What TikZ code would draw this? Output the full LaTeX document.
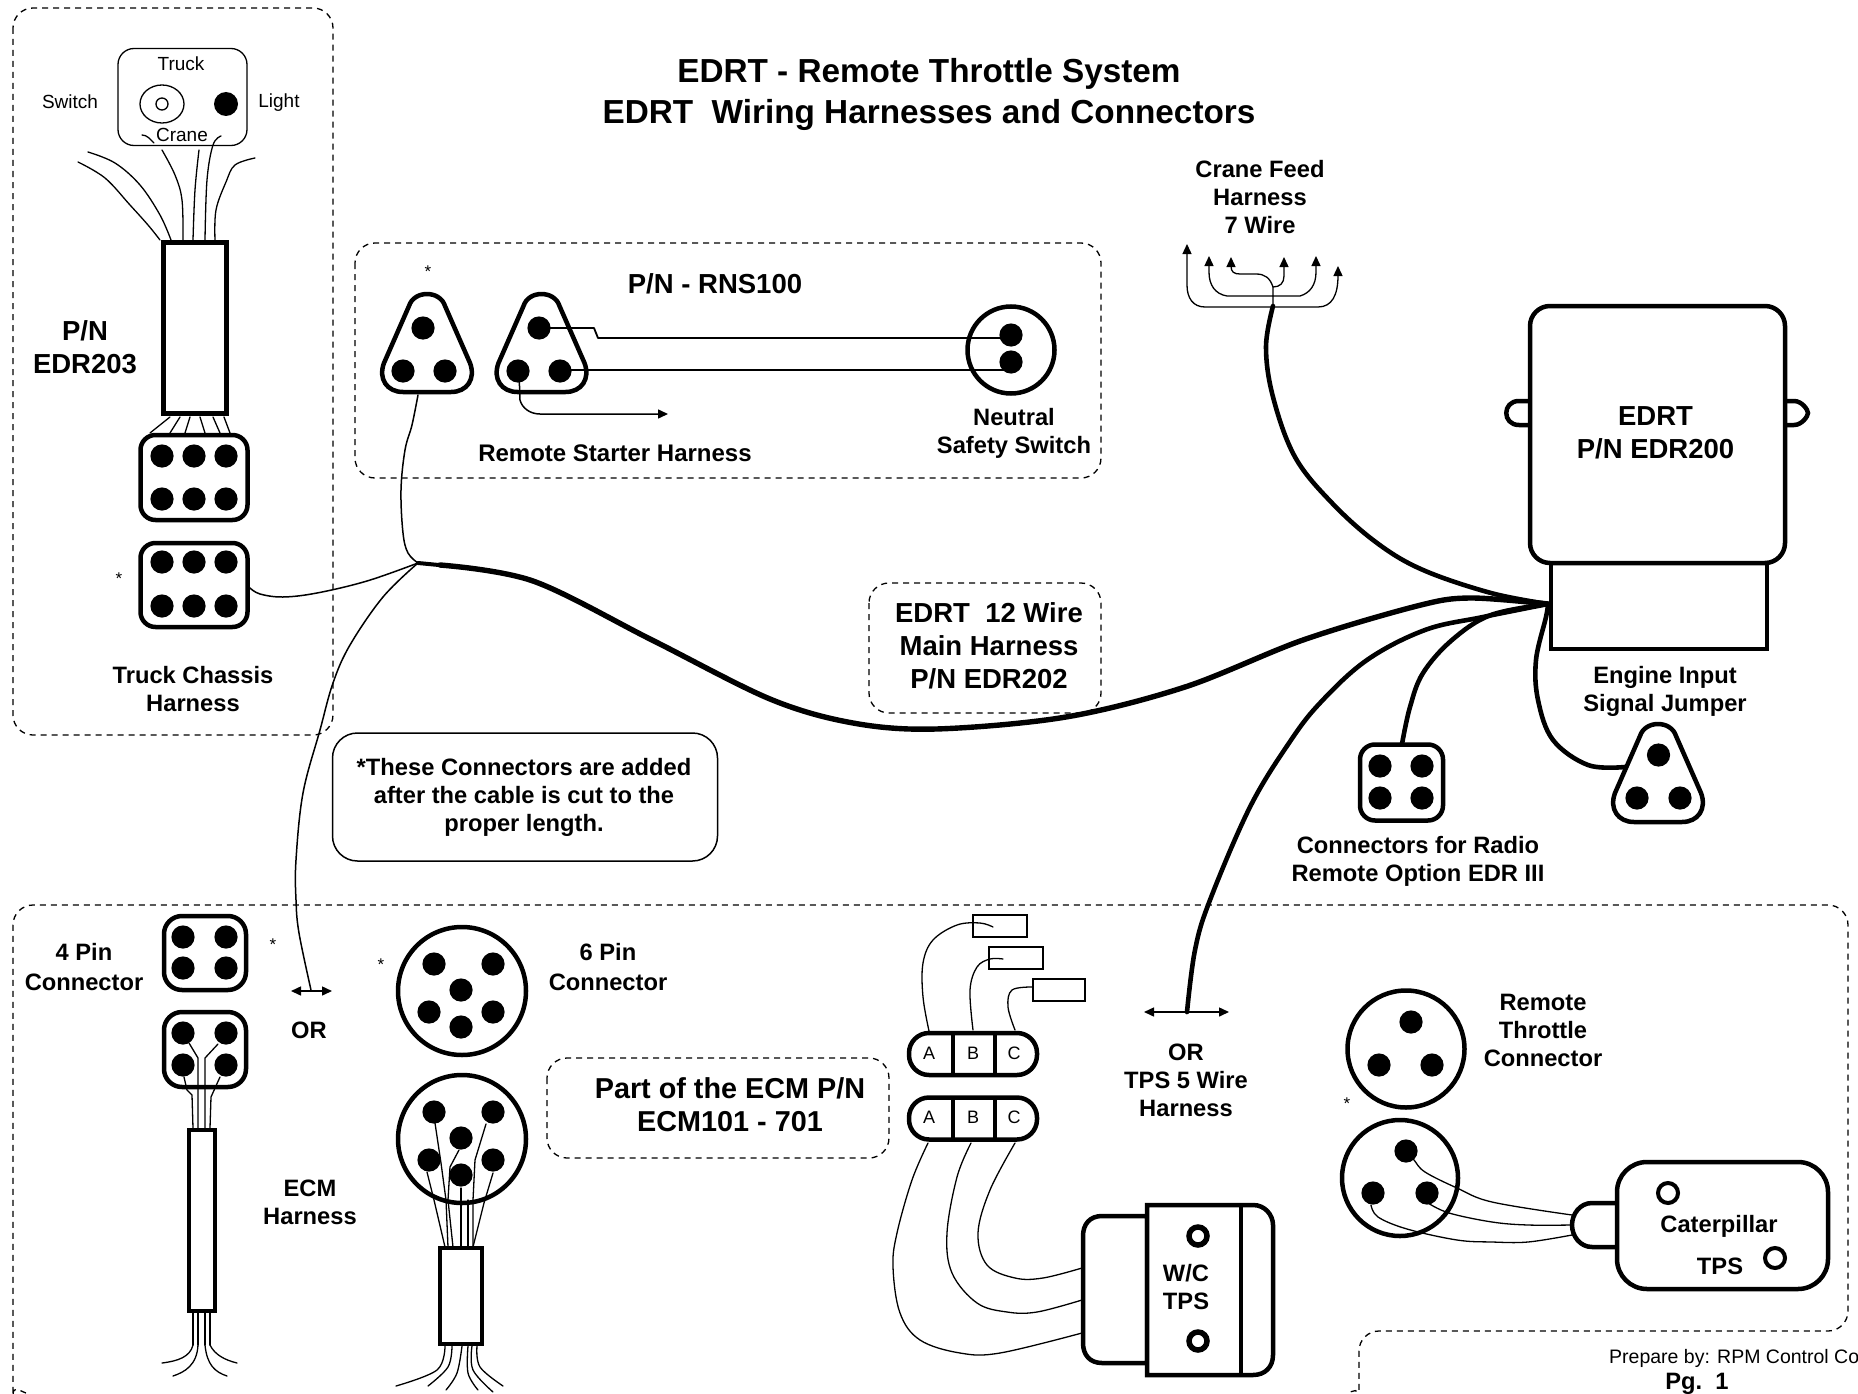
\documentclass[tikz,border=0pt]{standalone}
\usepackage{fontspec}
\setmainfont{Liberation Sans}
\usetikzlibrary{arrows.meta}
\tikzset{
  wire/.style={line width=1.3pt,line join=round,line cap=round},
  cable/.style={line width=4.6pt,line join=round,line cap=round},
  dsh/.style={line width=1.3pt,dash pattern=on 6pt off 5pt},
  outline/.style={draw,line width=4.5pt,fill=white,inner sep=0pt,outer sep=0pt},
  lab/.style={inner sep=0pt,align=center,font=\fontsize{23.7}{28}\selectfont\bfseries},
  lablarge/.style={inner sep=0pt,align=center,font=\fontsize{27.5}{33}\selectfont\bfseries},
  reg/.style={inner sep=0pt,align=center,font=\fontsize{19}{23}\selectfont},
  note/.style={inner sep=0pt,font=\fontsize{17}{20}\selectfont},
  tip/.style={-{Triangle[length=10pt,width=9pt]}},
  dbltip/.style={{Triangle[length=10pt,width=9pt]}-{Triangle[length=10pt,width=9pt]}},
}
\newcommand{\pin}[2]{\fill (#1,#2) circle[radius=11.6];}
\newcommand{\hole}[2]{\draw[line width=4pt,fill=white] (#1,#2) circle[radius=10];}
\newcommand{\tricon}[2]{\begin{scope}[shift={(#1,#2)}]\draw[line width=4.5pt,fill=white,line join=round] (-18,13) .. controls (-13,-3) and (13,-3) .. (18,13) -- (43,70) .. controls (49,86) and (40,99) .. (24,99) -- (-24,99) .. controls (-40,99) and (-49,86) .. (-43,70) -- cycle;\end{scope}}
\begin{document}
\begin{tikzpicture}[x=1pt,y=-1pt]
\useasboundingbox (0,0) rectangle (1858,1394);
\fill[white] (0,0) rectangle (1858,1394);

% dashed frames
\draw[dsh,rounded corners=20] (13,8) rectangle (333,735);
\draw[dsh,rounded corners=20] (355,243) rectangle (1101,478);
\draw[dsh,rounded corners=20] (869,583) rectangle (1101,713);
\draw[dsh,rounded corners=20] (547,1058) rectangle (889,1158);
\draw[dsh,rounded corners=20] (26,1393) .. controls (18,1390) and (13,1385) .. (13,1376) -- (13,905) -- (1848,905) -- (1848,1331) -- (1359,1331) -- (1359,1378) .. controls (1359,1386) and (1353,1392) .. (1346,1393);

% title
\node[inner sep=0pt,align=center,font=\fontsize{33.3}{41}\selectfont\bfseries] (title) at (929,94.5) {EDRT - Remote Throttle System\\EDRT~~Wiring Harnesses and Connectors};

% hubs
\coordinate (jL) at (418,563);
\coordinate (jR) at (1548,604);

% --- Truck chassis harness
\node[draw,line width=1.3pt,rounded corners=16,minimum width=129,minimum height=97,inner sep=0pt] (panel) at (182.5,97) {};
\node[reg] (tTruck) at (181,64) {Truck};
\node[reg] (tCrane) at (182,135) {Crane};
\node[reg] (tSwitch) at (70,102) {Switch};
\node[reg] (tLight) at (279,103) {Light};
\draw[line width=1.3pt] (162,104) ellipse[x radius=22,y radius=19];
\draw[line width=1.3pt] (162,104) circle[radius=6];
\fill (226,104) circle[radius=12];
\node[outline,minimum width=63,minimum height=171] (b203) at (195,328) {};
\draw[wire] plot[smooth,tension=.6] coordinates {(78,162) (105,178) (130,205) (148,225) (160,240)};
\draw[wire] plot[smooth,tension=.6] coordinates {(88,152) (115,163) (140,185) (160,215) (171,240)};
\draw[wire] plot[smooth,tension=.6] coordinates {(162,150) (175,175) (182,200) (183,240)};
\draw[wire] plot[smooth,tension=.6] coordinates {(199,150) (195,190) (193,240)};
\draw[wire] plot[smooth,tension=.6] coordinates {(221,136) (213,145) (207,180) (205,240)};
\draw[wire] plot[smooth,tension=.6] coordinates {(255,158) (235,165) (226,182) (216,210) (215,240)};
\draw[wire] (142,135) .. controls (147,135) and (150,139) .. (154,143);
\foreach \a/\b in {170/150,180/170,190/185,200/205,213/220,224/230}
  \draw[wire] (\a,417) -- (\b,433);
\node[outline,rounded corners=15,minimum width=107,minimum height=85] (c6a) at (194,477.5) {};
\node[outline,rounded corners=15,minimum width=107,minimum height=84] (c6b) at (194,585) {};
\foreach \px in {162,194,226}{\pin{\px}{456}\pin{\px}{499}\pin{\px}{562}\pin{\px}{606}}
\node[note] (s1) at (119,579) {*};
\node[lab] (tTC) at (193,689) {Truck Chassis\\Harness};
\node[lablarge] (tPN) at (85,347) {P/N\\EDR203};

% --- RNS100
\tricon{427}{293}
\tricon{541.5}{293}
\pin{423}{328}\pin{403}{371}\pin{445}{371}
\pin{539}{328}\pin{518}{371}\pin{560}{371}
\node[note] (s2) at (428,272) {*};
\node[lablarge] (tRNS) at (715,284) {P/N - RNS100};
\node[lab,font=\fontsize{24}{28}\selectfont\bfseries] (tRS) at (615,453) {Remote Starter Harness};
\node[outline,circle,minimum size=87] (nss) at (1011,350) {};
\draw[line width=1.8pt,line join=round] (539,328) -- (594,328) -- (598,338) -- (1011,338);
\draw[line width=1.8pt] (560,370) -- (1011,370);
\pin{1011}{335}\pin{1011}{362}
\draw[line width=1.5pt,tip] (519,372) -- (520,400) .. controls (522,408) and (530,414) .. (540,414) -- (668,414);
\node[lab] (tNS) at (1014,433) {Neutral\\Safety Switch};

% --- thin wires to left hub
\draw[wire,line width=1.5pt] plot[smooth,tension=.6] coordinates {(418,395) (412,425) (405,450) (401,490) (403,533) (408,553) (jL)};
\draw[wire,line width=1.5pt] plot[smooth,tension=.6] coordinates {(250,588) (260,594) (283,597) (317,593) (367,581) (jL)};
\draw[wire,line width=1.5pt] plot[smooth,tension=.6] coordinates {(jL) (383,597) (350,645) (333,683) (320,730) (303,793) (296,860) (296,900) (299,933) (311,990)};
\draw[line width=1.5pt,dbltip] (291,991) -- (332,991);
\node[lab] (tOR1) at (309,1030) {OR};

% --- note
\node[draw,line width=1.5pt,rounded corners=25,minimum width=385,minimum height=128,inner sep=0pt] (notebox) at (525,797) {};
\node[lab] (tNote) at (524,797) {*These Connectors are added\\after the cable is cut to the\\proper length.};

% --- main cable
\draw[line width=4pt,line cap=round] (jL) -- (470,568);
\draw[line width=5.4pt,line cap=round,line join=round] plot[smooth,tension=.55] coordinates {(440,565) (533,581) (652,640) (770,699) (853,723) (936,729) (1066,717) (1185,687) (1303,640) (1417,606) (1470,598) (jR)};
\node[lablarge] (tMain) at (989,646) {EDRT~~12 Wire\\Main Harness\\P/N EDR202};

% --- crane feed
\draw[cable] plot[smooth,tension=.6] coordinates {(1273,306) (1266,347) (1273,397) (1295,457) (1332,503) (1377,543) (1423,570) (1491,593) (jR)};
\draw[wire,tip] (1273,307) -- (1205,307) .. controls (1193,307) and (1187,298) .. (1187,285) -- (1187,244);
\draw[wire,tip] (1273,307) -- (1318,307) .. controls (1332,307) and (1338,295) .. (1338,266);
\draw[wire,tip] (1273,296) -- (1227,296) .. controls (1215,294) and (1209,285) .. (1209,272) -- (1209,256);
\draw[wire,tip] (1273,296) -- (1300,296) .. controls (1310,293) and (1316,285) .. (1316,272) -- (1316,256);
\draw[wire,tip] (1273,307) -- (1273,287) .. controls (1270,278) and (1265,274) .. (1256,274) -- (1240,274) .. controls (1234,274) and (1231,272) .. (1231,266) -- (1231,257);
\draw[wire,tip] (1273,287) .. controls (1280,287) and (1284,283) .. (1284,276) -- (1284,257);
\node[lab] (tCF) at (1260,197) {Crane Feed\\Harness\\7 Wire};

% --- EDRT box
\draw[line width=4.5pt,fill=white] (1532,401) -- (1519,401) .. controls (1502,401) and (1502,425) .. (1519,425) -- (1532,425);
\draw[line width=4.5pt,fill=white] (1780,401) -- (1794,401) .. controls (1802,401) and (1808,410) .. (1808,413) .. controls (1808,416) and (1802,425) .. (1794,425) -- (1780,425);
\node[outline,line width=4pt,minimum width=216,minimum height=86] (tail) at (1658.5,606) {};
\node[outline,rounded corners=20,minimum width=255,minimum height=257] (edrt) at (1657.5,434.5) {};
\node[lablarge] (tEDRT) at (1655.5,433) {EDRT\\P/N EDR200};

% --- other cables from right hub
\draw[cable] plot[smooth,tension=.6] coordinates {(jR) (1483,617) (1425,630) (1367,660) (1320,703) (1289,743) (1250,807) (1210,900) (1195,950) (1187,1012)};
\draw[cable] plot[smooth,tension=.6] coordinates {(jR) (1491,615) (1452,640) (1423,673) (1410,707) (1402,744)};
\draw[cable] plot[smooth,tension=.6] coordinates {(jR) (1546,617) (1536,660) (1538,700) (1553,740) (1588,765) (1625,767)};
\node[outline,rounded corners=15,minimum width=83,minimum height=76] (radio) at (1401.5,782.5) {};
\pin{1380}{766}\pin{1422}{766}\pin{1380}{798}\pin{1422}{798}
\node[lab] (tRadio) at (1418,861) {Connectors for Radio\\Remote Option EDR III};
\tricon{1658}{723}
\pin{1658.5}{755}\pin{1637}{798}\pin{1680}{798}
\node[lab] (tEng) at (1665,691) {Engine Input\\Signal Jumper};

% --- 4 pin connectors and ECM harness
\node[outline,rounded corners=18,minimum width=82,minimum height=74] (c4a) at (205,953) {};
\pin{183}{937}\pin{226}{937}\pin{183}{968}\pin{226}{968}
\node[outline,rounded corners=18,minimum width=82,minimum height=75] (c4b) at (205,1049.5) {};
\pin{183}{1033}\pin{226}{1033}\pin{183}{1065}\pin{226}{1065}
\node[outline,minimum width=26,minimum height=181] (ecm) at (202,1220.5) {};
\draw[wire] (189,1043) -- (198,1058) -- (198,1128);
\draw[wire] (218,1044) -- (205,1058) -- (205,1128);
\draw[wire] (184,1077) -- (187,1090) -- (192,1095) -- (193,1128);
\draw[wire] (220,1077) -- (211,1097) -- (210,1128);
\foreach \a in {193,198,205,210} \draw[wire] (\a,1312) -- (\a,1345);
\draw[wire] (193,1345) .. controls (190,1357) and (178,1361) .. (162,1363);
\draw[wire] (198,1345) .. controls (197,1365) and (185,1372) .. (173,1376);
\draw[wire] (205,1345) .. controls (207,1365) and (215,1372) .. (227,1376);
\draw[wire] (210,1345) .. controls (215,1355) and (225,1360) .. (237,1363);
\node[note] (s3) at (273,945) {*};
\node[lab,font=\fontsize{23.7}{30}\selectfont\bfseries] (t4p) at (84,967) {4 Pin\\Connector};
\node[lab] (tECM) at (310,1202) {ECM\\Harness};

% --- 6 pin connectors
\node[outline,circle,minimum size=128] (c6c) at (462,991) {};
\node[outline,circle,minimum size=128] (c6d) at (462,1139) {};
\foreach \oy in {0,148}{
  \pin{434}{964+\oy}\pin{493}{964+\oy}\pin{461}{990+\oy}\pin{429}{1012+\oy}\pin{493}{1012+\oy}\pin{461}{1027+\oy}}
\node[note] (s4) at (381,965) {*};
\node[lab,font=\fontsize{23.7}{30}\selectfont\bfseries] (t6p) at (608,967) {6 Pin\\Connector};
\node[outline,minimum width=42,minimum height=96] (b6) at (461,1296) {};
\draw[wire] (435,1123) -- (441,1163) -- (446,1200) -- (448,1247);
\draw[wire] (486,1124) -- (475,1160) -- (473,1200) -- (473,1247);
\draw[wire] (459,1150) -- (450,1167) -- (448,1200) -- (453,1247);
\draw[wire] (427,1172) -- (434,1200) -- (445,1247);
\draw[wire] (493,1173) -- (484,1203) -- (473,1247);
\draw[wire] (461,1188) -- (461,1247);
\draw[wire] (468,1200) -- (468,1247);
\draw[wire] plot[smooth,tension=.6] coordinates {(445,1346) (437,1370) (396,1386)};
\draw[wire] plot[smooth,tension=.6] coordinates {(452,1346) (448,1367) (428,1386)};
\draw[wire] plot[smooth,tension=.6] coordinates {(462,1346) (457,1373) (446,1390)};
\draw[wire] plot[smooth,tension=.6] coordinates {(468,1346) (468,1373) (478,1390)};
\draw[wire] plot[smooth,tension=.6] coordinates {(472,1346) (473,1370) (493,1392)};
\draw[wire] plot[smooth,tension=.6] coordinates {(477,1346) (480,1367) (503,1386)};

\node[lab,font=\fontsize{28.8}{33}\selectfont\bfseries] (tPart) at (730,1105) {Part of the ECM P/N\\ECM101 - 701};

% --- W/C TPS
\node[draw,line width=1.3pt,minimum width=54,minimum height=22,inner sep=0pt] (r1) at (1000,926) {};
\node[draw,line width=1.3pt,minimum width=54,minimum height=22,inner sep=0pt] (r2) at (1016,958) {};
\node[draw,line width=1.3pt,minimum width=52,minimum height=22,inner sep=0pt] (r3) at (1059,990) {};
\draw[wire] plot[smooth,tension=.6] coordinates {(929,1031) (923,997) (923,963) (933,940) (957,925) (980,923) (993,927)};
\draw[wire] plot[smooth,tension=.6] coordinates {(973,1030) (970,990) (977,967) (990,959) (1003,959)};
\draw[wire] plot[smooth,tension=.6] coordinates {(1015,1030) (1008,1007) (1012,990) (1033,987)};
\draw[wire] plot[smooth,tension=.6] coordinates {(928,1143) (912,1180) (897,1233) (893,1267) (900,1313) (920,1340) (960,1353) (1000,1353) (1082,1333)};
\draw[wire] plot[smooth,tension=.6] coordinates {(971,1143) (957,1177) (947,1233) (952,1273) (977,1303) (1007,1312) (1037,1312) (1082,1300)};
\draw[wire] plot[smooth,tension=.6] coordinates {(1015,1143) (990,1190) (978,1233) (987,1265) (1015,1278) (1043,1278) (1082,1268)};
\foreach \n/\cy in {abc1/1054,abc2/1118.5}{
  \node[outline,rounded corners=20,minimum width=128,minimum height=42] (\n) at (973,\cy) {};
  \draw[line width=4.5pt] (953,\cy-21) -- (953,\cy+21);
  \draw[line width=4.5pt] (995,\cy-21) -- (995,\cy+21);
  \node[reg,font=\fontsize{18}{20}\selectfont] at (929,\cy-1) {A};
  \node[reg,font=\fontsize{18}{20}\selectfont] at (973,\cy-1) {B};
  \node[reg,font=\fontsize{18}{20}\selectfont] at (1014,\cy-1) {C};
}
\draw[line width=1.5pt,dbltip] (1144,1012) -- (1229,1012);
\node[lab] (tTPS5) at (1186,1080) {OR\\TPS 5 Wire\\Harness};
\draw[line width=4.5pt,fill=white] (1147,1216) -- (1102,1216) .. controls (1090,1216) and (1083,1224) .. (1083,1236) -- (1083,1343) .. controls (1083,1355) and (1090,1363) .. (1102,1363) -- (1147,1363) -- cycle;
\draw[line width=4.5pt,fill=white] (1147,1205) -- (1253,1205) .. controls (1265,1205) and (1273,1215) .. (1273,1225) -- (1273,1355) .. controls (1273,1367) and (1265,1375) .. (1253,1375) -- (1147,1375) -- cycle;
\draw[line width=4.5pt] (1241,1205) -- (1241,1375);
\draw[line width=5.5pt,fill=white] (1198,1236) circle[radius=9];
\draw[line width=5.5pt,fill=white] (1198,1341) circle[radius=9];
\node[lab] (tWC) at (1186,1287) {W/C\\TPS};

% --- remote throttle and caterpillar
\node[outline,circle,minimum size=117] (rt1) at (1406,1049) {};
\pin{1411}{1022}\pin{1379}{1065}\pin{1432}{1065}
\node[outline,circle,minimum size=116] (rt2) at (1400,1178) {};
\pin{1406}{1151}\pin{1373}{1193}\pin{1427}{1193}
\node[note] (s5) at (1347,1104) {*};
\node[lab] (tRT) at (1543,1030) {Remote\\Throttle\\Connector};
\draw[line width=4.5pt,fill=white] (1617,1203) -- (1592,1203) .. controls (1580,1203) and (1572,1214) .. (1572,1225) .. controls (1572,1236) and (1580,1247) .. (1592,1247) -- (1617,1247);
\node[outline,rounded corners=30,minimum width=211,minimum height=127] (cat) at (1722.5,1225.5) {};
\hole{1668}{1193}\hole{1775}{1258}
\node[lab] (tCat) at (1719,1226) {Caterpillar};
\node[lab] (tTPSb) at (1720,1266) {TPS};
\draw[wire] plot[smooth,tension=.6] coordinates {(1406,1151) (1414,1160) (1425,1172) (1457,1188) (1492,1202) (1572,1215)};
\draw[wire] plot[smooth,tension=.6] coordinates {(1428,1203) (1449,1213) (1492,1222) (1528,1225) (1572,1225)};
\draw[wire] plot[smooth,tension=.6] coordinates {(1371,1205) (1378,1217) (1407,1229) (1457,1240) (1492,1242) (1528,1242) (1572,1235)};

% --- footer
\node[reg,anchor=west,font=\fontsize{19.5}{23}\selectfont] (tPrep) at (1609,1358) {Prepare by: RPM Control Co};
\node[lab] (tPg) at (1697,1384) {Pg.~~1};
\end{tikzpicture}
\end{document}
